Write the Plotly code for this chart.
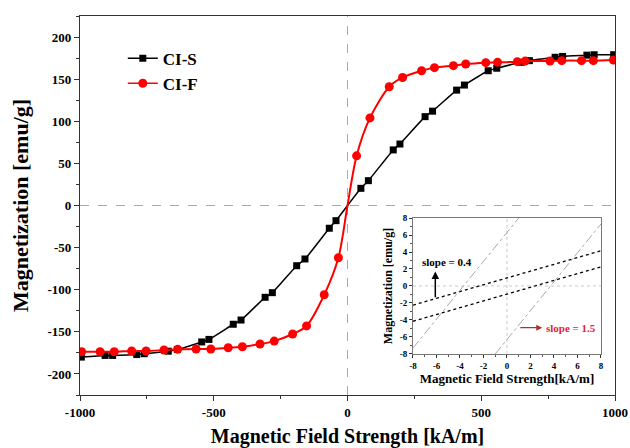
import plotly.graph_objects as go

# ---------------- data ----------------
cis_x = [-995, -906, -878, -788, -760, -670, -636, -545, -518, -427, -398, -308, -281,
         -190, -159, -68, -43, 50, 78, 171, 196, 290, 318, 408, 437, 526, 558, 649, 680,
         776, 804, 895, 922, 995]
cis_y = [-180, -178, -178, -177, -176, -173, -171, -162, -159, -141, -136, -109, -103.5,
         -71.5, -63.5, -27, -18, 20.4, 29.5, 66, 73, 105.5, 112, 137, 143, 160, 163, 170, 172,
         176, 177, 178.5, 179, 179]

cif_x = [-994, -925, -872, -807, -753, -686, -635, -566, -511, -446, -393, -327, -274,
         -205, -153, -87, -34, 0, 34, 84, 156, 206, 277, 325, 396, 442, 517, 561, 635, 664,
         757, 801, 875, 919, 994]
cif_y = [-173.6, -173.6, -173.6, -172.8, -172.8, -171.6, -170.8, -170.4, -170.4, -168.9,
         -167.7, -164.5, -161, -152.6, -143, -106, -62, 0, 59, 104, 141, 152, 160, 163.7,
         166, 168, 169.6, 170, 170.8, 171.5, 171.6, 172, 172, 172, 172.8]
cif_marker_x = [v for v in cif_x if v != 0]
cif_marker_y = [cif_y[i] for i, v in enumerate(cif_x) if v != 0]

# inset (zoom near origin)
ins_s_up_x = [-8, 8]
ins_s_up_y = [-2.25, 4.15]
ins_s_lo_x = [-8, 8]
ins_s_lo_y = [-4.15, 2.25]
ins_f_left_x = [-8, 1.0]
ins_f_left_y = [-7.3, 8]
ins_f_right_x = [-1.0, 8]
ins_f_right_y = [-8, 7.3]

main_xticks = [-1000, -500, 0, 500, 1000]
main_xlabels = ["-1000", "-500", "0", "500", "1000"]
main_yticks = [-200, -150, -100, -50, 0, 50, 100, 150, 200]
main_ylabels = ["-200", "-150", "-100", "-50", "0", "50", "100", "150", "200"]
inset_ticks = [-8, -6, -4, -2, 0, 2, 4, 6, 8]
inset_labels = ["-8", "-6", "-4", "-2", "0", "2", "4", "6", "8"]

SERIF = "Liberation Serif"

fig = go.Figure()

# main series
fig.add_trace(go.Scatter(x=cis_x, y=cis_y, mode="lines+markers", name="CI-S",
                         line=dict(color="black", width=1.5, shape="spline", smoothing=0.6),
                         marker=dict(symbol="square", size=7, color="black")))
fig.add_trace(go.Scatter(x=cif_x, y=cif_y, mode="lines", showlegend=False,
                         line=dict(color="red", width=2, shape="spline", smoothing=0.8),
                         hoverinfo="skip"))
fig.add_trace(go.Scatter(x=cif_marker_x, y=cif_marker_y, mode="markers", showlegend=False,
                         marker=dict(symbol="circle", size=9, color="red")))
fig.add_trace(go.Scatter(x=[None], y=[None], mode="lines+markers", name="CI-F",
                         line=dict(color="red", width=1.5),
                         marker=dict(symbol="circle", size=9, color="red")))

# inset series
for xs, ys in [(ins_s_up_x, ins_s_up_y), (ins_s_lo_x, ins_s_lo_y)]:
    fig.add_trace(go.Scatter(x=xs, y=ys, mode="lines", showlegend=False, xaxis="x2", yaxis="y2",
                             line=dict(color="black", width=1.3, dash="dot")))
for xs, ys in [(ins_f_left_x, ins_f_left_y), (ins_f_right_x, ins_f_right_y)]:
    fig.add_trace(go.Scatter(x=xs, y=ys, mode="lines", showlegend=False, xaxis="x2", yaxis="y2",
                             line=dict(color="#a8a8a8", width=1, dash="dashdot")))

axis_common = dict(showgrid=False, zeroline=False, showline=True, linecolor="#333",
                   linewidth=1.2, mirror=True, ticks="outside", tickcolor="#333",
                   automargin=False)

fig.update_layout(
    width=630, height=448,
    margin=dict(l=80, r=15, t=16, b=53),
    paper_bgcolor="white", plot_bgcolor="white",
    font=dict(family=SERIF, color="black"),
    showlegend=True,
    legend=dict(x=0.08, y=0.935, xanchor="left", yanchor="top",
                bgcolor="rgba(0,0,0,0)", font=dict(family=SERIF, size=17, weight="bold"),
                tracegroupgap=0, itemwidth=30),
    xaxis=dict(range=[-1000, 1000], tickvals=main_xticks, ticktext=main_xlabels, ticklen=5,
               minor=dict(dtick=250, ticklen=3, ticks="outside", tickcolor="#333"),
               tickfont=dict(family=SERIF, size=13, weight="bold"),
               title=dict(text="Magnetic Field Strength [kA/m]", standoff=18,
                          font=dict(family=SERIF, size=20, weight="bold")),
               **axis_common),
    yaxis=dict(range=[-225, 225], tickvals=main_yticks, ticktext=main_ylabels, ticklen=5,
               minor=dict(dtick=25, ticklen=3, ticks="outside", tickcolor="#333"),
               tickfont=dict(family=SERIF, size=13, weight="bold"),
               title=dict(text="Magnetization [emu/g]", standoff=12,
                          font=dict(family=SERIF, size=22, weight="bold")),
               **axis_common),
    xaxis2=dict(domain=[0.6224, 0.9738], anchor="y2", range=[-8, 8], tickvals=inset_ticks,
                ticktext=inset_labels,
                ticklen=3, minor=dict(dtick=1, ticklen=2, ticks="outside", tickcolor="#555"),
                tickfont=dict(family=SERIF, size=9, weight="bold"),
                title=dict(text="Magnetic Field Strength[kA/m]", standoff=4,
                           font=dict(family=SERIF, size=13, weight="bold")),
                **{**axis_common, "linecolor": "#777", "linewidth": 1}),
    yaxis2=dict(domain=[0.1082, 0.467], anchor="x2", range=[-8, 8], tickvals=inset_ticks,
                ticktext=inset_labels,
                ticklen=3, minor=dict(dtick=1, ticklen=2, ticks="outside", tickcolor="#555"),
                tickfont=dict(family=SERIF, size=9, weight="bold"),
                title=dict(text="Magnetization [emu/g]", standoff=4,
                           font=dict(family=SERIF, size=12, weight="bold")),
                **{**axis_common, "linecolor": "#777", "linewidth": 1}),
)

# dashed zero lines (main)
fig.add_shape(type="line", xref="x", yref="y", x0=0, x1=0, y0=-225, y1=225,
              line=dict(color="#aaaaaa", width=1, dash="dash"), layer="below")
fig.add_shape(type="line", xref="x", yref="y", x0=-1000, x1=1000, y0=0, y1=0,
              line=dict(color="#aaaaaa", width=1, dash="dash"), layer="below")
# dotted zero lines (inset)
fig.add_shape(type="line", xref="x2", yref="y2", x0=0, x1=0, y0=-8, y1=8,
              line=dict(color="#c8c8c8", width=1, dash="dot"), layer="below")
fig.add_shape(type="line", xref="x2", yref="y2", x0=-8, x1=8, y0=0, y1=0,
              line=dict(color="#c8c8c8", width=1, dash="dot"), layer="below")

# inset annotations
fig.add_annotation(xref="x2", yref="y2", x=-5.1, y=2.8, text="slope = 0.4", showarrow=False,
                   font=dict(family=SERIF, size=11, weight="bold", color="black"))
fig.add_annotation(xref="x2", yref="y2", x=-6.1, y=1.7, ax=-6.1, ay=-1.5,
                   axref="x2", ayref="y2", text="", showarrow=True,
                   arrowhead=2, arrowsize=1, arrowwidth=1.5, arrowcolor="black")
fig.add_annotation(xref="x2", yref="y2", x=5.45, y=-4.9, text="slope = 1.5", showarrow=False,
                   font=dict(family=SERIF, size=11, weight="bold", color="#e8203a"))
fig.add_annotation(xref="x2", yref="y2", x=3.0, y=-4.9, ax=1.0, ay=-4.9,
                   axref="x2", ayref="y2", text="", showarrow=True,
                   arrowhead=2, arrowsize=1, arrowwidth=1.2, arrowcolor="#b03030")

fig.write_html("out.html")
